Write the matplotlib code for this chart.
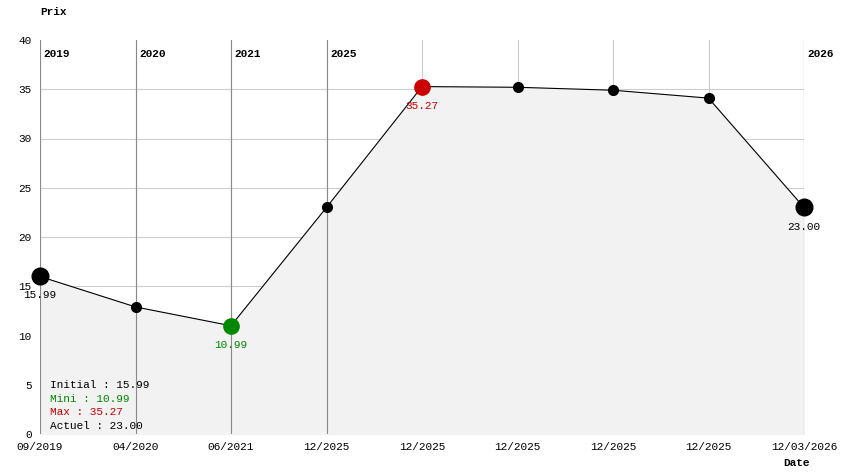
import matplotlib
matplotlib.use("Agg")
import matplotlib.pyplot as plt

dates = ["09/2019","04/2020","06/2021","12/2025","12/2025","12/2025","12/2025","12/2025","12/03/2026"]
prices = [15.99, 12.9, 10.99, 23.0, 35.27, 35.2, 34.9, 34.1, 23.0]
year_idx = [0, 1, 2, 3, 8]
year_lbl = ["2019", "2020", "2021", "2025", "2026"]

plt.rcParams['font.family'] = ['Liberation Mono', 'DejaVu Sans Mono']
fig = plt.figure(figsize=(8.44, 4.74), dpi=100)
ax = fig.add_axes([40/844, 40/474, 764/844, 394/474])
x = list(range(len(prices)))
ax.set_xlim(0, len(prices)-1)
ax.set_ylim(0, 40)
ax.fill_between(x, prices, 0, color="#f2f2f2", zorder=1)
for i in x:
    ax.axvline(i, color="#cccccc", lw=0.8, zorder=0)
for y in range(5, 40, 5):
    ax.axhline(y, color="#cccccc", lw=0.8, zorder=0)
for i, l in zip(year_idx, year_lbl):
    ax.axvline(i, color="#888888", lw=0.8, zorder=2)
    ax.text(i + 0.04, 38.6, l, fontsize=8, fontweight="bold", va="center", ha="left")
ax.plot(x, prices, color="black", lw=0.8, zorder=3)
mn = prices.index(min(prices)); mx = prices.index(max(prices))
for i, p in enumerate(prices):
    if i == mn:
        c, s = "#008800", 11
    elif i == mx:
        c, s = "#cc0000", 11
    elif i in (0, len(prices)-1):
        c, s = "black", 12
    else:
        c, s = "black", 7
    ax.plot(i, p, "o", color=c, ms=s, zorder=4, clip_on=False)
ax.text(0, prices[0]-1.9, f"{prices[0]:.2f}", fontsize=8, ha="center", va="center")
ax.text(mn, prices[mn]-2, f"{prices[mn]:.2f}", fontsize=8, ha="center", va="center", color="#008800")
ax.text(mx, prices[mx]-2, f"{prices[mx]:.2f}", fontsize=8, ha="center", va="center", color="#cc0000")
ax.text(8, prices[8]-2, f"{prices[8]:.2f}", fontsize=8, ha="center", va="center")
ax.set_xticks(x)
ax.set_xticklabels(dates, fontsize=8)
ax.set_yticks(range(0, 41, 5))
ax.tick_params(labelsize=8, length=0, pad=6)
for sp in ax.spines.values():
    sp.set_visible(False)
leg = [(f"Initial : {prices[0]:.2f}", "black"), (f"Mini : {min(prices):.2f}", "#008800"),
       (f"Max : {max(prices):.2f}", "#cc0000"), (f"Actuel : {prices[-1]:.2f}", "black")]
for k, (t, c) in enumerate(leg):
    ax.text(0.1, 5 - k*1.4, t, fontsize=8, color=c, va="center")
fig.text(40/844, 1-12/474, "Prix", fontsize=8, fontweight="bold", va="center")
fig.text(783/844, 1-463/474, "Date", fontsize=8, fontweight="bold", va="center")
fig.savefig("out.png", dpi=100, facecolor="white")
